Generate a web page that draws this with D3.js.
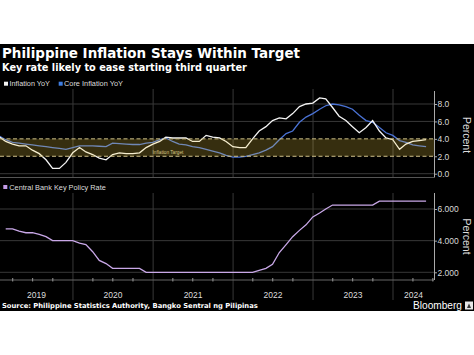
<!DOCTYPE html>
<html><head><meta charset="utf-8">
<script src="https://cdn.jsdelivr.net/npm/d3@7/dist/d3.min.js"></script>
<style>body{margin:0;background:#fff}svg{display:block}</style>
</head><body>
<svg id="c" width="474" height="355"></svg>
<script>
// ---------------- DATA ----------------
const years = ["2019", "2020", "2021", "2022", "2023", "2024"];
// monthly values, Jan 2019 .. May 2024 (YoY %)
const inflation = [
  4.2, 3.7, 3.4, 3.2, 3.2, 2.7, 2.3, 1.6, 0.6, 0.6, 1.3, 2.4,
  3.0, 2.5, 2.2, 1.8, 1.6, 2.2, 2.4, 2.3, 2.3, 2.4, 3.0, 3.4,
  3.7, 4.2, 4.1, 4.1, 4.1, 3.7, 3.7, 4.4, 4.2, 4.1, 3.7, 3.1,
  3.0, 3.0, 4.0, 4.9, 5.4, 6.1, 6.4, 6.3, 6.9, 7.7, 8.0, 8.1,
  8.7, 8.6, 7.6, 6.6, 6.1, 5.4, 4.7, 5.3, 6.1, 4.9, 4.1, 3.9,
  2.8, 3.4, 3.7, 3.8, 3.9
];
const coreInflation = [
  4.3, 3.9, 3.6, 3.5, 3.4, 3.3, 3.2, 3.1, 3.0, 2.9, 2.8, 3.0,
  3.2, 3.2, 3.2, 3.15, 3.1, 3.5, 3.45, 3.4, 3.35, 3.35, 3.5, 3.6,
  3.9, 4.1, 3.7, 3.4, 3.3, 3.1, 3.0, 2.8, 2.6, 2.4, 2.1, 1.9,
  1.9, 2.0, 2.2, 2.4, 2.7, 3.1, 3.9, 4.6, 4.9, 5.9, 6.5, 6.9,
  7.4, 7.8, 8.0, 7.9, 7.7, 7.4, 6.7, 6.1, 5.9, 5.3, 4.7, 4.4,
  3.8, 3.6, 3.3, 3.2, 3.1
];
// month-end policy rate, Feb 2019 .. May 2024 (%)
const policyStartMonth = 2;
const policyRate = [
  4.75, 4.75, 4.6, 4.5, 4.5, 4.4, 4.25, 4.0, 4.0, 4.0, 4.0,
  3.85, 3.75, 3.3, 2.75, 2.55, 2.25, 2.25, 2.25, 2.25, 2.25, 2.0, 2.0,
  2.0, 2.0, 2.0, 2.0, 2.0, 2.0, 2.0, 2.0, 2.0, 2.0, 2.0, 2.0,
  2.0, 2.0, 2.0, 2.12, 2.25, 2.5, 3.25, 3.75, 4.25, 4.65, 5.0, 5.5,
  5.75, 6.0, 6.25, 6.25, 6.25, 6.25, 6.25, 6.25, 6.25, 6.5, 6.5, 6.5,
  6.5, 6.5, 6.5, 6.5, 6.5
];
const topTicks = [0, 2, 4, 6, 8];
const bottomTicks = [2, 4, 6];
const targetBand = [2, 4];

// ---------------- CHART ----------------
const svg = d3.select("#c");
const W = 474;
const FONT = "'Liberation Sans', Arial, sans-serif";
const BOLD = "'DejaVu Sans', Verdana, sans-serif";

svg.append("rect").attr("x", 0).attr("y", 44).attr("width", W).attr("height", 267).attr("fill", "#000");

function fit(sel, width) {
  const w = sel.node().getComputedTextLength();
  const fs = parseFloat(sel.attr("font-size"));
  sel.attr("font-size", (fs * width / w).toFixed(2));
  return sel;
}

// titles
fit(svg.append("text").attr("x", 2).attr("y", 58).attr("font-family", BOLD).attr("font-weight", "bold")
  .attr("font-size", 12).attr("fill", "#fff").text("Philippine Inflation Stays Within Target"), 298);
fit(svg.append("text").attr("x", 2).attr("y", 70.5).attr("font-family", BOLD).attr("font-weight", "bold")
  .attr("font-size", 10).attr("fill", "#fff").text("Key rate likely to ease starting third quarter"), 245);

// scales
const monthDate = m => new Date(2019, m, 0);
const x = d3.scaleTime().domain([new Date(2019, 0, 1), new Date(2024, 0, 1)]).range([-7, 393]);
const X0 = 0, X1 = 434;
const TOP = {y0: 89, y1: 177.5};
const BOT = {y0: 193, y1: 280};
const yT = d3.scaleLinear().domain([0, 8]).range([173.7, 104]);
const yB = d3.scaleLinear().domain([2, 6]).range([272.3, 209]);

const defs = svg.append("defs");
defs.append("clipPath").attr("id", "clipT").append("rect").attr("x", X0).attr("y", TOP.y0).attr("width", X1 - X0).attr("height", TOP.y1 - TOP.y0);
defs.append("clipPath").attr("id", "clipB").append("rect").attr("x", X0).attr("y", BOT.y0).attr("width", X1 - X0).attr("height", BOT.y1 - BOT.y0);

const GRID = "#383838";
const yearStarts = years.slice(1).map(y => new Date(+y, 0, 1));

// legend top
svg.append("rect").attr("x", 4).attr("y", 81.7).attr("width", 4).attr("height", 4).attr("fill", "#f2f2f2");
fit(svg.append("text").attr("x", 9.5).attr("y", 86).attr("font-family", FONT).attr("font-size", 7).attr("fill", "#ddd").text("Inflation YoY"), 40.5);
svg.append("rect").attr("x", 58.7).attr("y", 81.7).attr("width", 4).attr("height", 4).attr("fill", "#3f7de0");
fit(svg.append("text").attr("x", 64).attr("y", 86).attr("font-family", FONT).attr("font-size", 7).attr("fill", "#ddd").text("Core Inflation YoY"), 59);

// top grid
const gT = svg.append("g");
gT.selectAll("line.h").data(topTicks.filter(t => !targetBand.includes(t))).join("line")
  .attr("x1", X0).attr("x2", X1).attr("y1", d => yT(d)).attr("y2", d => yT(d)).attr("stroke", GRID);
gT.selectAll("line.v").data(yearStarts).join("line")
  .attr("x1", d => x(d)).attr("x2", d => x(d)).attr("y1", TOP.y0).attr("y2", TOP.y1).attr("stroke", GRID);

// top lines
const lineT = d3.line().x(d => x(d.date)).y(d => yT(d.v));
const infData = inflation.map((v, i) => ({date: monthDate(i + 1), v}));
const coreData = coreInflation.map((v, i) => ({date: monthDate(i + 1), v}));
const gL = svg.append("g").attr("clip-path", "url(#clipT)");
gL.append("path").datum(coreData).attr("d", lineT).attr("fill", "none").attr("stroke", "#4a72d4").attr("stroke-width", 1.3);
gL.append("path").datum(infData).attr("d", lineT).attr("fill", "none").attr("stroke", "#f4f4f4").attr("stroke-width", 1.3);

// target band overlay
svg.append("rect").attr("x", X0).attr("width", X1 - X0).attr("y", yT(targetBand[1])).attr("height", yT(targetBand[0]) - yT(targetBand[1]))
  .attr("fill", "rgb(255,215,70)").attr("fill-opacity", 0.21);
svg.selectAll("line.band").data(targetBand).join("line")
  .attr("x1", X0).attr("x2", X1).attr("y1", d => yT(d)).attr("y2", d => yT(d))
  .attr("stroke", "#cfc08a").attr("stroke-width", 1).attr("stroke-dasharray", "4,2.5");
fit(svg.append("text").attr("x", 152.5).attr("y", 153.6).attr("font-family", FONT).attr("font-size", 5).attr("fill", "#d6c585").text("Inflation Target"), 31);

// top right axis
const axT = svg.append("g").attr("transform", `translate(${X1},0)`)
  .call(d3.axisRight(yT).tickValues(topTicks).tickFormat(d3.format(".1f")).tickSize(3).tickSizeOuter(0));
axT.select(".domain").remove();
axT.selectAll(".tick line").attr("stroke", "#aaa");
axT.selectAll(".tick text").attr("x", 3.5).attr("font-family", FONT).attr("font-size", 8.5).attr("fill", "#d8d8d8");
svg.append("line").attr("x1", X1 + 0.5).attr("x2", X1 + 0.5).attr("y1", 91).attr("y2", TOP.y1).attr("stroke", "#aaa");
svg.append("text").attr("transform", `translate(463,135) rotate(90)`).attr("text-anchor", "middle")
  .attr("font-family", FONT).attr("font-size", 10.5).attr("fill", "#ddd").text("Percent");

// separator
svg.append("line").attr("x1", 0).attr("x2", X1).attr("y1", TOP.y1).attr("y2", TOP.y1).attr("stroke", "#555").attr("stroke-width", 1.2);

// bottom legend
svg.append("rect").attr("x", 3.3).attr("y", 185).attr("width", 4).attr("height", 4).attr("fill", "#c39be6");
fit(svg.append("text").attr("x", 9.3).attr("y", 189.5).attr("font-family", FONT).attr("font-size", 8).attr("fill", "#ddd").text("Central Bank Key Policy Rate"), 96.7);

// bottom grid
const gB = svg.append("g");
gB.selectAll("line.h").data(bottomTicks).join("line")
  .attr("x1", X0).attr("x2", X1).attr("y1", d => yB(d)).attr("y2", d => yB(d)).attr("stroke", GRID);
gB.selectAll("line.v").data(yearStarts).join("line")
  .attr("x1", d => x(d)).attr("x2", d => x(d)).attr("y1", BOT.y0).attr("y2", 300).attr("stroke", GRID);

// policy line
const polData = policyRate.map((v, i) => ({date: monthDate(i + policyStartMonth), v}));
svg.append("g").attr("clip-path", "url(#clipB)").append("path").datum(polData)
  .attr("d", d3.line().x(d => x(d.date)).y(d => yB(d.v)))
  .attr("fill", "none").attr("stroke", "#c9a8e8").attr("stroke-width", 1.3);

// bottom right axis
const axB = svg.append("g").attr("transform", `translate(${X1},0)`)
  .call(d3.axisRight(yB).tickValues(bottomTicks).tickFormat(d3.format(".3f")).tickSize(3).tickSizeOuter(0));
axB.select(".domain").remove();
axB.selectAll(".tick line").attr("stroke", "#aaa");
axB.selectAll(".tick text").attr("x", 3.5).attr("font-family", FONT).attr("font-size", 8.5).attr("fill", "#d8d8d8");
svg.append("line").attr("x1", X1 + 0.5).attr("x2", X1 + 0.5).attr("y1", BOT.y0).attr("y2", BOT.y1).attr("stroke", "#aaa");
svg.append("text").attr("transform", `translate(463,236.5) rotate(90)`).attr("text-anchor", "middle")
  .attr("font-family", FONT).attr("font-size", 10.5).attr("fill", "#ddd").text("Percent");

// x axis
svg.append("line").attr("x1", 0).attr("x2", X1).attr("y1", BOT.y1).attr("y2", BOT.y1).attr("stroke", "#666");
const quarters = d3.timeMonth.every(3).range(new Date(2019, 0, 1), new Date(2024, 7, 1)).filter(d => d.getMonth() !== 0);
svg.selectAll("line.q").data(quarters.filter(d => x(d) > X0 && x(d) < X1)).join("line")
  .attr("x1", d => x(d)).attr("x2", d => x(d)).attr("y1", BOT.y1 - 2).attr("y2", BOT.y1 + 1.5).attr("stroke", "#999");
svg.selectAll("text.yr").data(years).join("text")
  .attr("x", d => {
    const a = Math.max(X0, x(new Date(+d, 0, 1))), b = Math.min(X1, x(new Date(+d + 1, 0, 1)));
    return (a + b) / 2;
  })
  .attr("y", 298).attr("text-anchor", "middle").attr("font-family", FONT).attr("font-size", 8.5).attr("fill", "#ddd")
  .text(d => d);

// footer
fit(svg.append("text").attr("x", 2).attr("y", 308).attr("font-family", BOLD).attr("font-weight", "bold")
  .attr("font-size", 7.5).attr("fill", "#fff").text("Source: Philippine Statistics Authority, Bangko Sentral ng Pilipinas"), 256);
fit(svg.append("text").attr("x", 413).attr("y", 309).attr("font-family", FONT)
  .attr("font-size", 9.5).attr("fill", "#fff").text("Bloomberg"), 49);
svg.append("rect").attr("x", 465).attr("y", 301.5).attr("width", 8).attr("height", 8).attr("fill", "#e6e6e6");
svg.append("path").attr("d", "M467,308 L469,303.5 L471,308 Z").attr("fill", "#333");
</script>
</body></html>
